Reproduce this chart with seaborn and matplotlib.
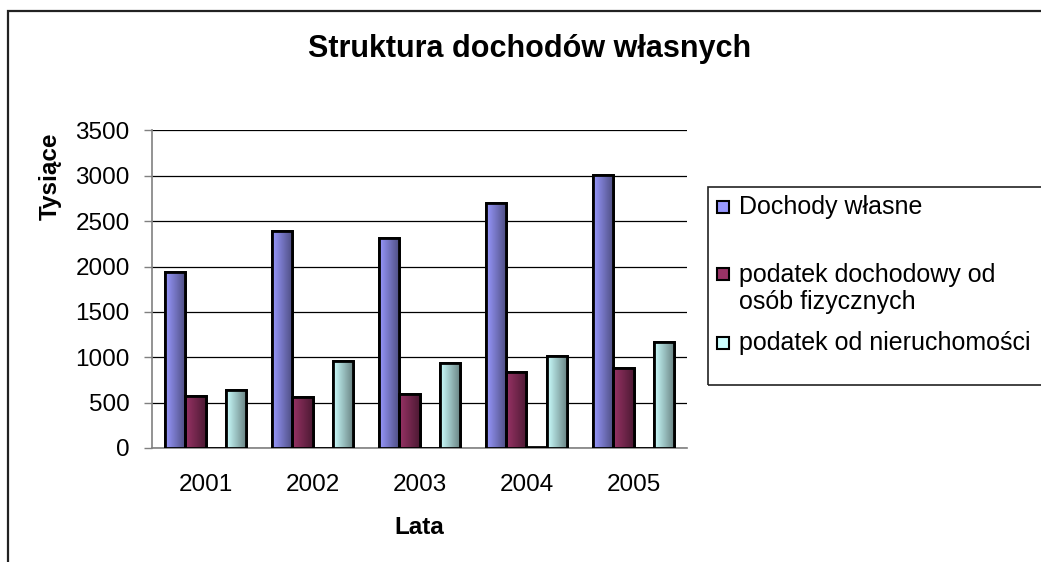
import numpy as np
import pandas as pd
import matplotlib
matplotlib.use("Agg")
import matplotlib.pyplot as plt
import seaborn as sns
from matplotlib.patches import Rectangle
from matplotlib.colors import to_rgb

# Data (thousands)
years = ["2001", "2002", "2003", "2004", "2005"]
dochody_wlasne = [1940, 2390, 2320, 2700, 3010]
podatek_dochodowy = [570, 560, 600, 840, 880]
pusta_seria = [0, 0, 0, 15, 0]
podatek_nieruchomosci = [640, 960, 940, 1010, 1170]

series_names = ["Dochody własne", "podatek dochodowy od\nosób fizycznych", "_pusta", "podatek od nieruchomości"]
series_values = [dochody_wlasne, podatek_dochodowy, pusta_seria, podatek_nieruchomosci]
colors = ["#9999FF", "#993366", "#FFFFFF", "#CCFFFF"]

rows = []
for name, vals in zip(series_names, series_values):
    for y, v in zip(years, vals):
        rows.append({"rok": y, "seria": name, "wartosc": v})
df = pd.DataFrame(rows)

sns.set_theme(style="white")
plt.rcParams["font.family"] = ["Liberation Sans", "DejaVu Sans"]
plt.rcParams["text.color"] = "black"
plt.rcParams["axes.labelcolor"] = "black"

W, H = 1041, 562
fig = plt.figure(figsize=(W / 100, H / 100), dpi=100)
ax = fig.add_axes([152 / W, 1 - 448 / H, (687 - 152) / W, (448 - 130.5) / H])

sns.barplot(data=df, x="rok", y="wartosc", hue="seria", hue_order=series_names,
            palette=colors, width=0.75, edgecolor="black", linewidth=2,
            legend=False, ax=ax, zorder=3)

# Excel-like horizontal gradient on each bar
for cont, col in zip(ax.containers, colors):
    if col == "#FFFFFF":
        continue
    c0 = np.array(to_rgb(col))
    c1 = c0 * 0.5
    grad = np.linspace(0, 1, 64)
    img = (c0[None, :] * (1 - grad[:, None]) + c1[None, :] * grad[:, None])[None, :, :]
    for bar in cont.patches:
        x0, y0 = bar.get_x(), bar.get_y()
        w, h = bar.get_width(), bar.get_height()
        im = ax.imshow(img, extent=[x0, x0 + w, y0, y0 + h], aspect="auto",
                       zorder=3.5, interpolation="bilinear")
        im.set_clip_path(bar)
        edge = Rectangle((x0, y0), w, h, fill=False, edgecolor="black", linewidth=2, zorder=4)
        ax.add_patch(edge)

ax.set_xlim(-0.5, 4.5)
ax.set_ylim(0, 3500)
ax.set_yticks(np.arange(0, 3501, 500))
ax.yaxis.grid(True, color="black", linewidth=0.9)
ax.set_axisbelow(True)
ax.set_xlabel("")
ax.set_ylabel("")

for s in ["top", "right"]:
    ax.spines[s].set_visible(False)
for s in ["left", "bottom"]:
    ax.spines[s].set_color("#808080")
    ax.spines[s].set_linewidth(1.2)

ax.set_xticks(np.arange(-0.5, 4.6, 1), minor=True)
ax.tick_params(axis="x", which="major", length=0, pad=19, labelsize=17.5, labelcolor="black")
ax.tick_params(axis="x", which="minor", length=6, width=1, color="#808080", direction="out")
ax.tick_params(axis="y", which="major", left=True, length=6, width=1, color="#808080",
               direction="out", pad=10, labelsize=17.5, labelcolor="black")

def fx(px):
    return px / W

def fy(py):
    return 1 - py / H

fig.text(fx(529.5), fy(49), "Struktura dochodów własnych", ha="center", va="center",
         fontsize=22, fontweight="bold", color="black")
fig.text(fx(50), fy(176), "Tysiące", ha="center", va="center", rotation=90,
         fontsize=17.5, fontweight="bold", color="black")
fig.text(fx(419), fy(527), "Lata", ha="center", va="center", fontsize=17.5,
         fontweight="bold", color="black")

# outer chart border
fig.add_artist(Rectangle((fx(8), fy(575)), fx(1050 - 8), (575 - 11) / H, fill=False,
                         edgecolor="#222222", linewidth=1.6, transform=fig.transFigure))

# legend box
fig.add_artist(Rectangle((fx(708), fy(385)), fx(1050 - 708), (385 - 187) / H, fill=False,
                         edgecolor="#222222", linewidth=1.2, transform=fig.transFigure))
legend_rows = [(0, 207), (1, 288.5), (3, 343)]
for idx, yc in legend_rows:
    myc = yc if idx != 1 else 274
    fig.add_artist(Rectangle((fx(717), fy(myc + 6)), fx(12), 12 / H, facecolor=colors[idx],
                             edgecolor="black", linewidth=1.5, transform=fig.transFigure))
    fig.text(fx(739), fy(yc), series_names[idx], ha="left", va="center", fontsize=18,
             linespacing=1.2, color="black")

fig.savefig("out.png", dpi=100)
